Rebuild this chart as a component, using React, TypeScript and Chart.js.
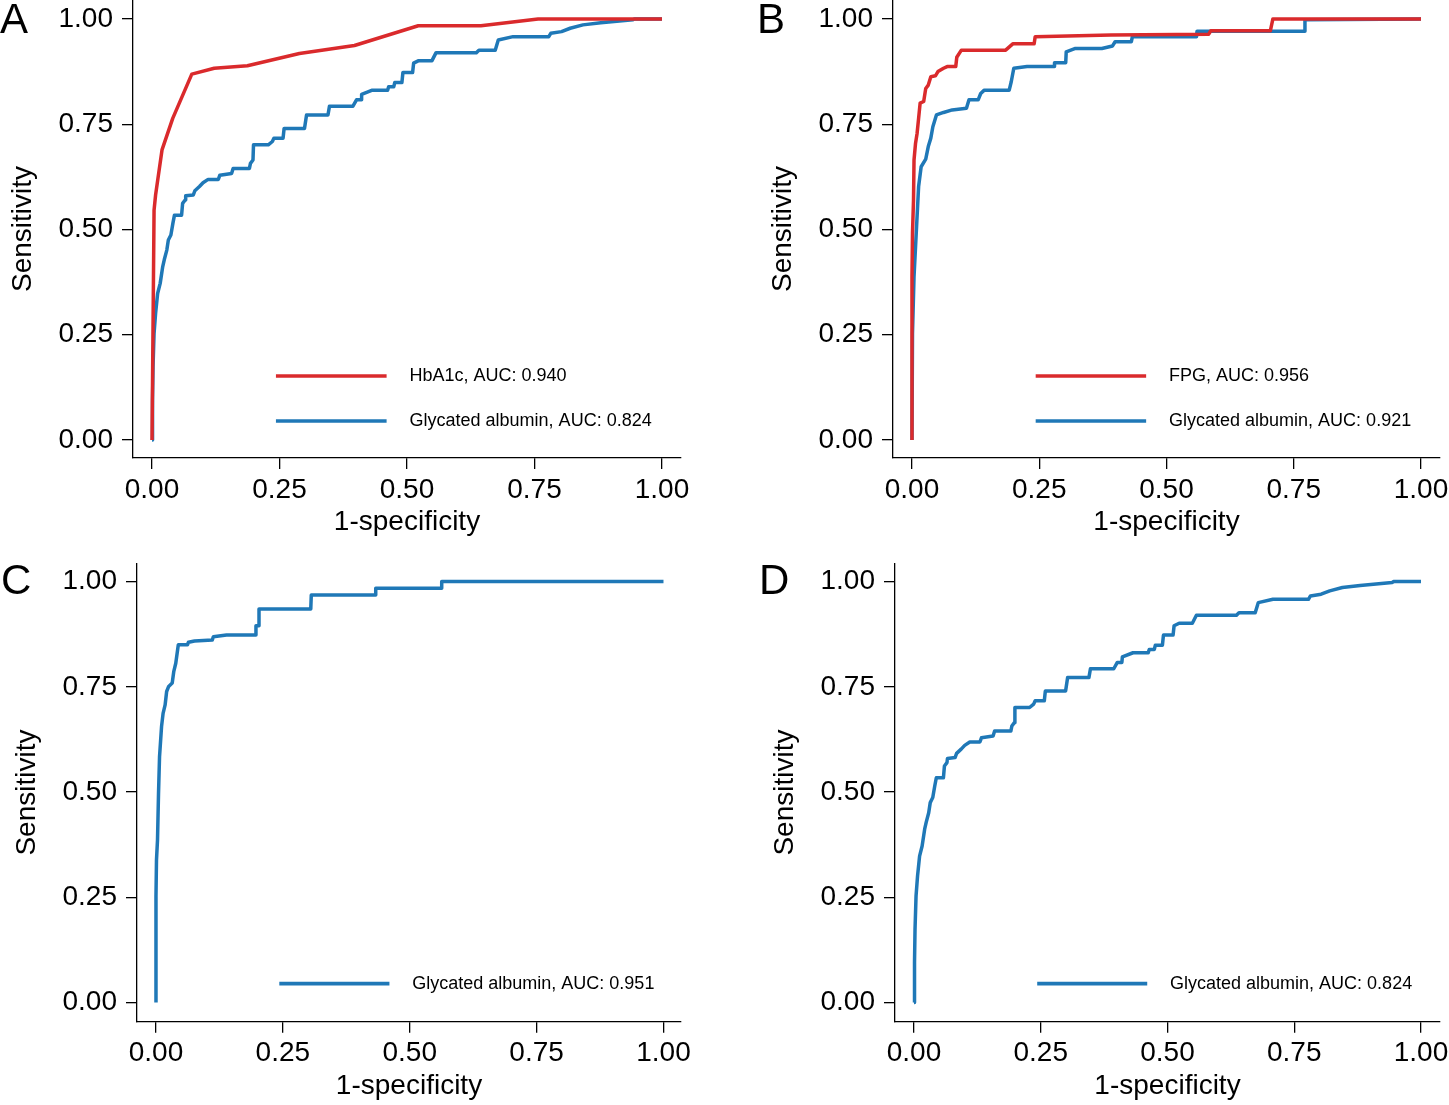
import React, { useEffect, useRef } from 'react';
import { Chart, registerables } from 'chart.js';

Chart.register(...registerables);

// ---------- DATA ----------
const tickValues = [0, 0.25, 0.5, 0.75, 1];
const tickLabels = ['0.00', '0.25', '0.50', '0.75', '1.00'];
const xTitle = '1-specificity';
const yTitle = 'Sensitivity';

// Panel A: HbA1c
const hba1cFpr = [0, 0.004, 0.007, 0.0196, 0.0406, 0.078, 0.122, 0.187, 0.289, 0.397, 0.522, 0.645, 0.757, 1.0];
const hba1cTpr = [0, 0.546, 0.582, 0.689, 0.764, 0.869, 0.883, 0.889, 0.918, 0.937, 0.984, 0.984, 1.0, 1.0];

// Panel A & D: Glycated albumin (AUC 0.824)
const gaAllFpr = [0, 0.001, 0.002, 0.004, 0.007, 0.011, 0.016, 0.021, 0.024, 0.029, 0.032, 0.037, 0.041, 0.044, 0.058, 0.060, 0.065, 0.066, 0.081, 0.084, 0.093, 0.100, 0.110, 0.130, 0.133, 0.156, 0.159, 0.191, 0.193, 0.198, 0.199, 0.228, 0.236, 0.239, 0.257, 0.259, 0.299, 0.303, 0.345, 0.348, 0.394, 0.401, 0.410, 0.411, 0.432, 0.462, 0.464, 0.474, 0.476, 0.490, 0.492, 0.511, 0.513, 0.523, 0.549, 0.557, 0.636, 0.641, 0.673, 0.679, 0.708, 0.778, 0.782, 0.803, 0.820, 0.845, 0.880, 0.943, 0.946, 1.0];
const gaAllTpr = [0, 0.095, 0.174, 0.253, 0.301, 0.348, 0.372, 0.412, 0.428, 0.451, 0.475, 0.487, 0.515, 0.534, 0.534, 0.562, 0.570, 0.580, 0.582, 0.592, 0.602, 0.611, 0.619, 0.619, 0.629, 0.633, 0.645, 0.645, 0.657, 0.665, 0.701, 0.701, 0.709, 0.717, 0.717, 0.740, 0.740, 0.772, 0.772, 0.793, 0.793, 0.808, 0.808, 0.821, 0.831, 0.831, 0.839, 0.839, 0.849, 0.849, 0.873, 0.873, 0.895, 0.901, 0.901, 0.920, 0.920, 0.926, 0.926, 0.950, 0.958, 0.958, 0.966, 0.970, 0.978, 0.986, 0.991, 0.998, 1.0, 1.0];

// Panel B: FPG
const fpgFpr = [0, 0, 0.001, 0.003, 0.004, 0.007, 0.010, 0.013, 0.016, 0.023, 0.027, 0.032, 0.037, 0.046, 0.051, 0.062, 0.069, 0.086, 0.088, 0.097, 0.184, 0.198, 0.240, 0.242, 0.391, 0.583, 0.587, 0.704, 0.709, 1.0];
const fpgTpr = [0, 0.388, 0.491, 0.570, 0.665, 0.705, 0.728, 0.764, 0.800, 0.804, 0.835, 0.843, 0.863, 0.865, 0.875, 0.883, 0.887, 0.887, 0.909, 0.926, 0.926, 0.941, 0.941, 0.958, 0.962, 0.964, 0.972, 0.972, 1.0, 1.0];

// Panel B: Glycated albumin (AUC 0.921)
const gaBFpr = [0, 0.001, 0.004, 0.009, 0.013, 0.018, 0.027, 0.032, 0.037, 0.041, 0.048, 0.062, 0.079, 0.107, 0.112, 0.130, 0.135, 0.142, 0.191, 0.195, 0.200, 0.226, 0.279, 0.280, 0.302, 0.303, 0.321, 0.373, 0.394, 0.399, 0.431, 0.433, 0.559, 0.560, 0.772, 0.772, 1.0];
const gaBTpr = [0, 0.253, 0.388, 0.507, 0.602, 0.649, 0.667, 0.697, 0.717, 0.744, 0.772, 0.778, 0.784, 0.788, 0.808, 0.808, 0.823, 0.831, 0.831, 0.851, 0.883, 0.887, 0.887, 0.896, 0.896, 0.922, 0.930, 0.930, 0.936, 0.946, 0.946, 0.958, 0.958, 0.971, 0.971, 0.998, 1.0];

// Panel C: Glycated albumin (AUC 0.951)
const gaCFpr = [0, 0, 0.001, 0.003, 0.005, 0.007, 0.011, 0.014, 0.018, 0.021, 0.025, 0.032, 0.035, 0.039, 0.044, 0.062, 0.064, 0.076, 0.111, 0.113, 0.139, 0.196, 0.197, 0.203, 0.203, 0.305, 0.306, 0.432, 0.433, 0.562, 0.563, 1.0];
const gaCTpr = [0, 0.252, 0.339, 0.386, 0.497, 0.584, 0.656, 0.687, 0.707, 0.739, 0.751, 0.759, 0.786, 0.806, 0.850, 0.850, 0.856, 0.859, 0.861, 0.869, 0.873, 0.873, 0.895, 0.895, 0.935, 0.935, 0.968, 0.968, 0.984, 0.984, 1.0, 1.0];

const panelLetters = ['A', 'B', 'C', 'D'];
const labelHbA1c = 'HbA1c, AUC: 0.940';
const labelGaA = 'Glycated albumin, AUC: 0.824';
const labelFpg = 'FPG, AUC: 0.956';
const labelGaB = 'Glycated albumin, AUC: 0.921';
const labelGaC = 'Glycated albumin, AUC: 0.951';
const labelGaD = 'Glycated albumin, AUC: 0.824';

// ---------- STYLE ----------
const RED = '#da2a2c';
const BLUE = '#1f78b7';
const FONT = '"Liberation Sans", Arial, Helvetica, sans-serif';

type Series = { label: string; fpr: number[]; tpr: number[]; color: string };
type Panel = {
  letter: string;
  letterPos: { left: number; top: number };
  box: { left: number; top: number; width: number; height: number };
  padding: { left: number; top: number; right: number; bottom: number };
  x: [number, number];
  y: [number, number];
  series: Series[];
};

const panels: Panel[] = [
  {
    letter: panelLetters[0],
    letterPos: { left: 0, top: -2.5 },
    box: { left: 0, top: 0, width: 724, height: 541 },
    padding: { left: 0, top: 0, right: 43, bottom: 0 },
    x: [-0.0373, 1.0373],
    y: [-0.0428, 1.0451],
    series: [
      { label: labelHbA1c, fpr: hba1cFpr, tpr: hba1cTpr, color: RED },
      { label: labelGaA, fpr: gaAllFpr, tpr: gaAllTpr, color: BLUE },
    ],
  },
  {
    letter: panelLetters[1],
    letterPos: { left: 757, top: -2.5 },
    box: { left: 760, top: 0, width: 689, height: 541 },
    padding: { left: 0, top: 0, right: 9, bottom: 0 },
    x: [-0.0373, 1.0373],
    y: [-0.0428, 1.0451],
    series: [
      { label: labelFpg, fpr: fpgFpr, tpr: fpgTpr, color: RED },
      { label: labelGaB, fpr: gaBFpr, tpr: gaBTpr, color: BLUE },
    ],
  },
  {
    letter: panelLetters[2],
    letterPos: { left: 1, top: 558.5 },
    box: { left: 4, top: 552, width: 720, height: 553 },
    padding: { left: 0, top: 11.5, right: 43, bottom: 0.3 },
    x: [-0.0374, 1.0345],
    y: [-0.0454, 1.043],
    series: [{ label: labelGaC, fpr: gaCFpr, tpr: gaCTpr, color: BLUE }],
  },
  {
    letter: panelLetters[3],
    letterPos: { left: 759, top: 558.5 },
    box: { left: 762, top: 552, width: 687, height: 553 },
    padding: { left: 0, top: 11.5, right: 9, bottom: 0.3 },
    x: [-0.0375, 1.0375],
    y: [-0.0454, 1.043],
    series: [{ label: labelGaD, fpr: gaAllFpr, tpr: gaAllTpr, color: BLUE }],
  },
];

// legend geometry in data units
const legendLineStart = 0.243;
const legendLineEnd = 0.46;
const legendTextX = 0.505;
const legendRowsY = [0.045, 0.152];

const rocLegend = {
  id: 'rocLegend',
  afterDatasetsDraw(chart: any) {
    const { ctx, scales } = chart;
    const xs = scales.x;
    const ys = scales.y;
    const ds = chart.data.datasets;
    ctx.save();
    ds.forEach((d: any, i: number) => {
      const row = ds.length - 1 - i;
      const py = ys.getPixelForValue(legendRowsY[row]);
      ctx.beginPath();
      ctx.strokeStyle = d.borderColor;
      ctx.lineWidth = 3.6;
      ctx.lineCap = 'butt';
      ctx.moveTo(xs.getPixelForValue(legendLineStart), py);
      ctx.lineTo(xs.getPixelForValue(legendLineEnd), py);
      ctx.stroke();
      ctx.fillStyle = '#000';
      ctx.font = `18px ${FONT}`;
      ctx.textBaseline = 'middle';
      ctx.textAlign = 'left';
      ctx.fillText(d.label, xs.getPixelForValue(legendTextX), py);
    });
    ctx.restore();
  },
};

function PanelChart({ p }: { p: Panel }) {
  const ref = useRef<HTMLCanvasElement | null>(null);
  useEffect(() => {
    if (!ref.current) return;
    const axisCommon = {
      type: 'linear' as const,
      border: { display: true, color: '#000', width: 1.3 },
      grid: { drawOnChartArea: false, drawTicks: true, tickLength: 11, color: '#000', lineWidth: 1.3 },
      afterBuildTicks: (scale: any) => {
        scale.ticks = tickValues.map((v) => ({ value: v }));
      },
    };
    const chart = new Chart(ref.current, {
      type: 'line',
      data: {
        datasets: p.series.map((s) => ({
          label: s.label,
          data: s.fpr.map((v, i) => ({ x: v, y: s.tpr[i] })),
          borderColor: s.color,
          backgroundColor: s.color,
          borderWidth: 3.5,
          pointRadius: 0,
          tension: 0,
          fill: false,
          borderJoinStyle: 'round' as const,
          clip: false as any,
        })),
      },
      options: {
        animation: false,
        responsive: false,
        maintainAspectRatio: false,
        layout: { padding: p.padding },
        plugins: { legend: { display: false }, tooltip: { enabled: false }, title: { display: false } },
        scales: {
          x: {
            ...axisCommon,
            position: 'bottom',
            min: p.x[0],
            max: p.x[1],
            ticks: {
              color: '#000',
              font: { family: FONT, size: 28 },
              padding: 4,
              maxRotation: 0,
              autoSkip: false,
              callback: (v: any) => {
                const idx = tickValues.indexOf(Number(v));
                return idx >= 0 ? tickLabels[idx] : '';
              },
            },
            title: { display: true, text: xTitle, color: '#000', font: { family: FONT, size: 28 }, padding: { top: 0, bottom: 2 } },
            afterFit: (scale: any) => {
              scale.height = 83;
              scale.paddingLeft = 0;
              scale.paddingRight = 0;
            },
          },
          y: {
            ...axisCommon,
            position: 'left',
            min: p.y[0],
            max: p.y[1],
            ticks: {
              color: '#000',
              font: { family: FONT, size: 28 },
              padding: 9,
              autoSkip: false,
              callback: (v: any) => {
                const idx = tickValues.indexOf(Number(v));
                return idx >= 0 ? tickLabels[idx] : '';
              },
            },
            title: { display: true, text: yTitle, color: '#000', font: { family: FONT, size: 28 }, padding: { top: 6.7, bottom: 0 } },
            afterFit: (scale: any) => {
              scale.width = 133;
              scale.paddingTop = 0;
              scale.paddingBottom = 0;
            },
          },
        },
      } as any,
      plugins: [rocLegend],
    });
    return () => chart.destroy();
  }, [p]);

  return (
    <>
      <canvas
        ref={ref}
        width={p.box.width}
        height={p.box.height}
        style={{ position: 'absolute', left: p.box.left, top: p.box.top, width: p.box.width, height: p.box.height }}
      />
      <div
        style={{
          position: 'absolute',
          left: p.letterPos.left,
          top: p.letterPos.top,
          fontFamily: FONT,
          fontSize: 42,
          lineHeight: '42px',
          color: '#000',
        }}
      >
        {p.letter}
      </div>
    </>
  );
}

export default function App() {
  return (
    <div style={{ position: 'absolute', left: 0, top: 0, width: 1449, height: 1105, background: '#fff', overflow: 'hidden' }}>
      {panels.map((p) => (
        <PanelChart key={p.letter} p={p} />
      ))}
    </div>
  );
}
